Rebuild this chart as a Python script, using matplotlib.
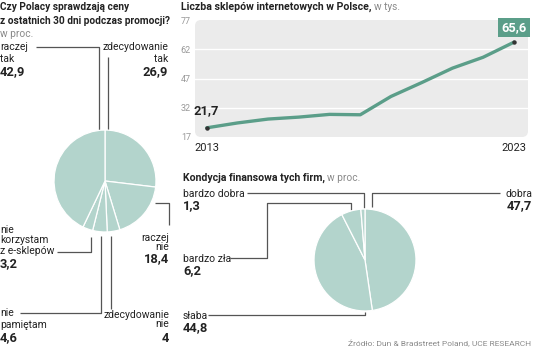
import matplotlib
matplotlib.use('Agg')
import matplotlib.pyplot as plt
from matplotlib.patches import FancyBboxPatch

plt.rcParams['font.family'] = ['Liberation Sans Narrow', 'Roboto', 'DejaVu Sans']

# dane
lata = list(range(2013, 2024))
sklepy = [21.7, 24.2, 26.2, 27.2, 28.6, 28.4, 37.8, 44.9, 52.3, 57.9, 65.6]
os_y = [17, 32, 47, 62, 77]

ceny_etykiety = ['zdecydowanie tak', 'raczej nie', 'zdecydowanie nie',
                 'nie pamiętam', 'nie korzystam z e-sklepów', 'raczej tak']
ceny_wartosci = [26.9, 18.4, 4, 4.6, 3.2, 42.9]

kondycja_etykiety = ['dobra', 'słaba', 'bardzo zła', 'bardzo dobra']
kondycja_wartosci = [47.7, 44.8, 6.2, 1.3]

W, H = 536, 364
CIEMNY = '#222222'
SZARY = '#8a8a8a'
LINIA = '#555555'
PIE_KOLOR = '#b3d4cc'
ZIELONY = '#5b9e89'


def px(x, y, w, h):
    return [x / W, 1 - (y + h) / H, w / W, h / H]


def fmt(v):
    if v == int(v):
        return str(int(v))
    return f'{v:.1f}'.replace('.', ',')


fig = plt.figure(figsize=(W / 100, H / 100), dpi=100)
ax0 = fig.add_axes([0, 0, 1, 1])
ax0.set_xlim(0, W)
ax0.set_ylim(H, 0)
ax0.axis('off')


def etykieta(x, ys, linie, liczba, ha='left'):
    for y, t in zip(ys[:-1], linie):
        ax0.text(x, y, t, ha=ha, va='center', fontsize=7.5, color=CIEMNY)
    ax0.text(x, ys[-1], liczba, ha=ha, va='center', fontsize=9.3,
             fontweight='bold', color=CIEMNY)


def prowadnica(pts):
    xs = [p[0] for p in pts]
    ys = [p[1] for p in pts]
    ax0.plot(xs, ys, color=LINIA, lw=0.9, solid_capstyle='butt')


def tytul(x, y, mocny, slaby, rozmiar=7.6):
    t = ax0.text(x, y, mocny, ha='left', va='center', fontsize=rozmiar,
                 fontweight='bold', color=CIEMNY)
    fig.canvas.draw()
    bb = t.get_window_extent().transformed(ax0.transData.inverted())
    ax0.text(bb.x1 + 2, y, slaby, ha='left', va='center', fontsize=7.3, color=SZARY)


# --- lewy wykres kolowy ---
ax1 = fig.add_axes(px(53, 129, 104, 104))
ax1.pie(ceny_wartosci, startangle=90, counterclock=False, colors=[PIE_KOLOR] * 6,
        wedgeprops=dict(edgecolor='white', linewidth=0.9))
ax1.set_xlim(-1.02, 1.02)
ax1.set_ylim(-1.02, 1.02)

ax0.text(0, 7, 'Czy Polacy sprawdzają ceny', fontsize=7.3, fontweight='bold',
         color=CIEMNY, va='center')
ax0.text(0, 21, 'z ostatnich 30 dni podczas promocji?', fontsize=7.3,
         fontweight='bold', color=CIEMNY, va='center')
ax0.text(0, 34, 'w proc.', fontsize=7.3, color=SZARY, va='center')

etykieta(0, [47, 59, 72], ['raczej', 'tak'], fmt(ceny_wartosci[5]))
etykieta(168, [47, 59, 72], ['zdecydowanie', 'tak'], fmt(ceny_wartosci[0]), 'right')
etykieta(169, [238, 247, 259], ['raczej', 'nie'], fmt(ceny_wartosci[1]), 'right')
etykieta(169, [315, 324, 338], ['zdecydowanie', 'nie'], fmt(ceny_wartosci[2]), 'right')
etykieta(0, [313, 325, 338], ['nie', 'pamiętam'], fmt(ceny_wartosci[3]))
etykieta(0, [230, 240, 251, 264], ['nie', 'korzystam', 'z e-sklepów'], fmt(ceny_wartosci[4]))

prowadnica([(36, 47), (99, 47), (99, 133)])
prowadnica([(108, 57), (108, 133)])
prowadnica([(155, 203), (169, 203), (169, 225)])
prowadnica([(111, 236), (111, 309)])
prowadnica([(20, 313), (101, 313), (101, 236)])
prowadnica([(57, 252), (91, 252), (91, 237)])

# --- wykres liniowy ---
tlo = FancyBboxPatch((195, 20), 333, 117, boxstyle='round,pad=0,rounding_size=6',
                     facecolor='#ebebeb', edgecolor='none')
ax0.add_patch(tlo)
ax2 = fig.add_axes(px(195, 20, 333, 117))
ax2.set_facecolor('none')
for s in ax2.spines.values():
    s.set_visible(False)
ax2.set_xlim(2012.62, 2023.46)
ax2.set_ylim(os_y[0], os_y[-1])
for v in os_y[1:-1]:
    ax2.axhline(v, color='white', lw=1, zorder=1)
ax2.plot(lata, sklepy, color=ZIELONY, lw=2.4, zorder=3, solid_capstyle='round')
ax2.plot([lata[0], lata[-1]], [sklepy[0], sklepy[-1]], 'o', color='#333333',
         ms=2.2, zorder=4)
ax2.set_yticks(os_y)
ax2.set_yticklabels([str(v) for v in os_y], fontsize=6.5, color='#999999')
ax2.set_xticks([lata[0], lata[-1]])
ax2.set_xticklabels([str(lata[0]), str(lata[-1])], fontsize=8, color=CIEMNY)
ax2.tick_params(length=0, axis='y', pad=3)
ax2.tick_params(length=0, axis='x', pad=4)
ax2.annotate(fmt(sklepy[0]), (lata[0], sklepy[0]), xytext=(0, 8),
             textcoords='offset points', ha='center', va='bottom', fontsize=9.3,
             fontweight='bold', color=CIEMNY)
ax2.annotate(fmt(sklepy[-1]), (lata[-1], sklepy[-1]), xytext=(0, 6),
             textcoords='offset points', ha='center', va='bottom', fontsize=9.3,
             fontweight='bold', color='white',
             bbox=dict(boxstyle='square,pad=0.25', facecolor=ZIELONY, edgecolor='none'))

tytul(181, 7, 'Liczba sklepów internetowych w Polsce,', 'w tys.')

# --- prawy wykres kolowy ---
ax3 = fig.add_axes(px(313, 208, 104, 104))
ax3.pie(kondycja_wartosci, startangle=90, counterclock=False, colors=[PIE_KOLOR] * 4,
        wedgeprops=dict(edgecolor='white', linewidth=0.9))
ax3.set_xlim(-1.02, 1.02)
ax3.set_ylim(-1.02, 1.02)

tytul(183, 178, 'Kondycja finansowa tych firm,', 'w proc.')

etykieta(183, [194, 206], ['bardzo dobra'], fmt(kondycja_wartosci[3]))
etykieta(183, [259, 271], ['bardzo zła'], fmt(kondycja_wartosci[2]))
etykieta(183, [316, 328], ['słaba'], fmt(kondycja_wartosci[1]))
etykieta(532, [194, 206], ['dobra'], fmt(kondycja_wartosci[0]), 'right')

prowadnica([(247, 193), (364, 193), (364, 208)])
prowadnica([(230, 258), (267, 258), (267, 203), (351, 203), (351, 210)])
prowadnica([(208, 315), (365, 315), (365, 312)])
prowadnica([(500, 193), (372, 193), (372, 207)])

ax0.text(531, 343, 'Źródło: Dun & Bradstreet Poland, UCE RESEARCH', ha='right',
         va='center', fontsize=6, color=SZARY)

fig.savefig('out.png', dpi=100)
